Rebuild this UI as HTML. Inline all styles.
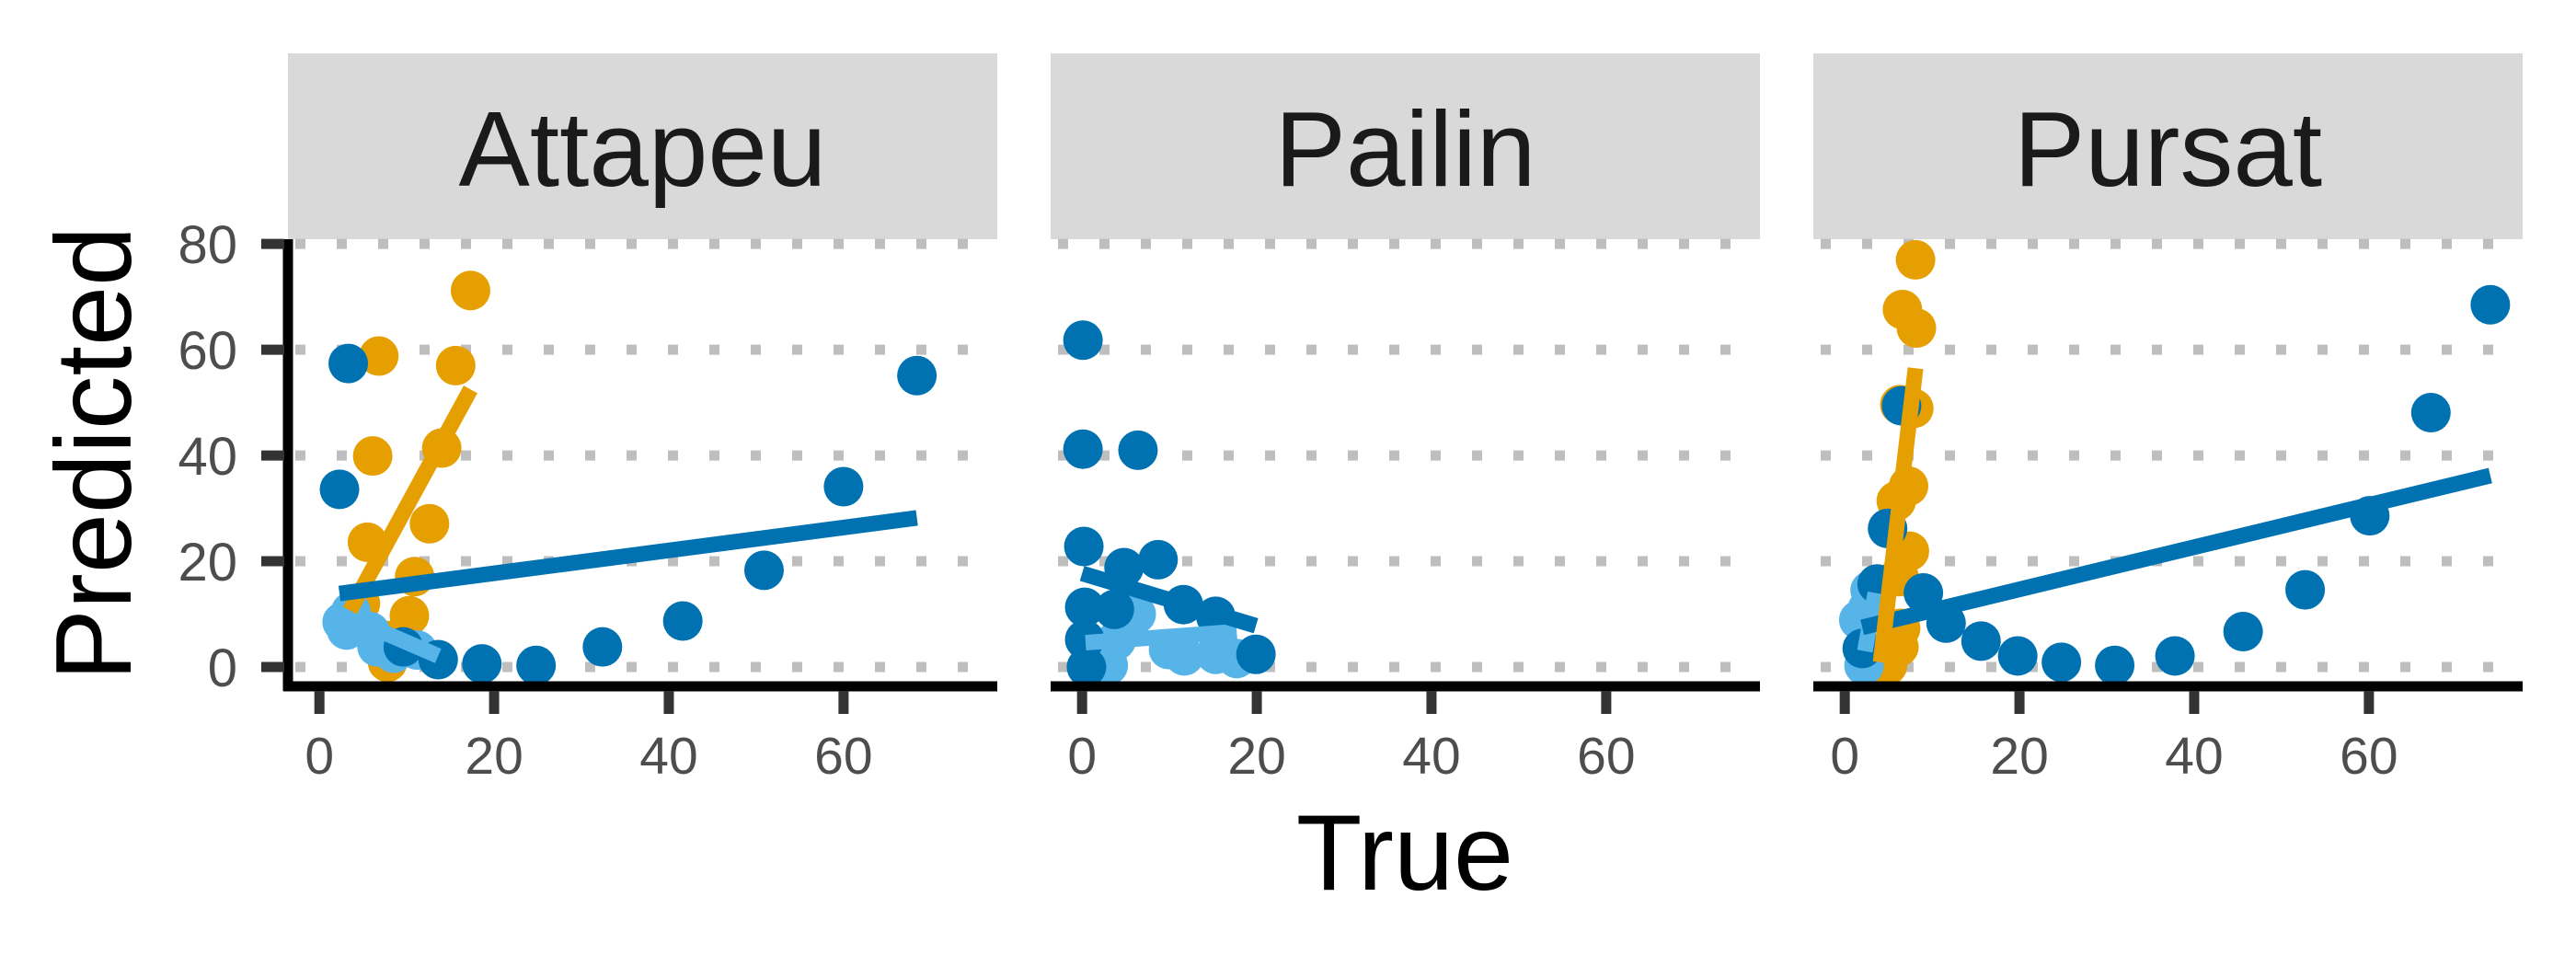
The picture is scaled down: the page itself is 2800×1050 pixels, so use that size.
<!DOCTYPE html>
<html><head><meta charset="utf-8"><style>
html,body{margin:0;padding:0;background:#fff;}
svg{display:block;font-family:"Liberation Sans",sans-serif;}
</style></head><body>
<svg id="chart" width="2800" height="1050" viewBox="0 0 2800 1050" xmlns="http://www.w3.org/2000/svg">
<rect width="2800" height="1050" fill="#fff"/>
<g id="root"></g>
</svg>
<script>
// ---- data ----
const panelNames = ["Attapeu", "Pailin", "Pursat"];
const xTicks = [0, 20, 40, 60];
const yTicks = [0, 20, 40, 60, 80];

// Attapeu
const attDarkX = [3.3, 2.3, 68.4, 60, 50.9, 41.6, 32.4, 24.8, 18.6, 13.6, 9.6];
const attDarkY = [57.4, 33.6, 55.1, 34.1, 18.3, 8.7, 3.8, 0.3, 0.6, 1.4, 3.8];
const attOrangeX = [17.3, 6.8, 15.6, 14.0, 6.1, 12.6, 5.5, 10.9, 10.3, 7.8, 4.7, 7.7];
const attOrangeY = [71.2, 58.8, 57.0, 41.4, 39.9, 27.1, 23.6, 17.1, 9.7, 0.9, 12.0, 5.0];
const attLightX = [3.1, 3.6, 5.8, 6.6, 11.2, 8.5, 2.6];
const attLightY = [7.0, 10.5, 6.7, 3.8, 3.2, 2.6, 8.5];
const attDarkFit = [2.3, 13.9, 68.4, 28.2];
const attOrangeFit = [3.5, 10.7, 17.3, 52.5];
const attLightFit = [2.5, 10.0, 13.6, 2.1];

// Pailin
const paiDarkX = [0.1, 0.1, 6.4, 0.2, 8.7, 4.8, 11.6, 15.3, 19.9, 0.3, 3.7, 0.3, 0.5];
const paiDarkY = [61.8, 41.2, 41.0, 22.8, 20.3, 18.8, 11.8, 9.6, 2.4, 11.3, 10.9, 5.2, 0.0];
const paiLightX = [6.2, 9.9, 11.7, 15.3, 17.7, 3.0, 3.9, 2.0];
const paiLightY = [10.0, 3.3, 2.1, 2.4, 1.6, 0.3, 5.0, 2.0];
const paiDarkFit = [0.0, 17.7, 19.9, 7.8];
const paiLightFit = [0.4, 4.6, 17.7, 6.7];

// Pursat
const purDarkX = [73.9, 67.1, 60.1, 52.7, 45.6, 37.8, 30.9, 24.8, 19.8, 15.6, 11.6, 9.0, 3.7, 4.9, 6.5, 2.0];
const purDarkY = [68.5, 48.1, 28.6, 14.6, 6.7, 2.1, 0.3, 0.9, 2.1, 4.9, 8.3, 14.0, 15.7, 26.2, 49.4, 3.5];
const purOrangeX = [8.1, 6.6, 8.2, 6.3, 7.9, 7.3, 5.9, 7.4, 6.2, 6.4, 6.2, 4.9];
const purOrangeY = [77.0, 67.6, 64.1, 49.6, 48.9, 34.2, 31.4, 21.9, 17.1, 7.3, 3.8, 0.3];
const purLightX = [2.9, 1.6, 2.2, 2.2, 2.6];
const purLightY = [14.5, 8.9, 2.9, 0.3, 11.0];
const purDarkFit = [2.0, 7.5, 73.9, 36.2];
const purOrangeFit = [4.1, 0.9, 8.1, 56.5];
const purLightFit = [2.3, 3.0, 3.5, 14.0];

// ---- layout ----
const NS = "http://www.w3.org/2000/svg";
const root = document.getElementById('root');
const panelLeft = [313, 1142, 1971];
const panelW = 771, panelTop = 260, panelBot = 746;
const xMin = -3.6, xMax = 77.6, yMin = -3.65, yMax = 80.9;
const DARK = "#0072B2", ORANGE = "#E69F00", LIGHT = "#56B4E9";
function xs(p, v){ return panelLeft[p] + (v - xMin) / (xMax - xMin) * panelW; }
function ys(v){ return panelBot - (v - yMin) / (yMax - yMin) * (panelBot - panelTop); }
function mk(tag, attrs, parent){
  const e = document.createElementNS(NS, tag);
  for (const k in attrs) e.setAttribute(k, attrs[k]);
  (parent || root).appendChild(e);
  return e;
}

const panels = [
  {dark:[attDarkX, attDarkY], orange:[attOrangeX, attOrangeY], light:[attLightX, attLightY],
   fits:[[attLightFit, LIGHT],[attOrangeFit, ORANGE],[attDarkFit, DARK]]},
  {dark:[paiDarkX, paiDarkY], orange:null, light:[paiLightX, paiLightY],
   fits:[[paiLightFit, LIGHT],[paiDarkFit, DARK]]},
  {dark:[purDarkX, purDarkY], orange:[purOrangeX, purOrangeY], light:[purLightX, purLightY],
   fits:[[purLightFit, LIGHT],[purDarkFit, DARK],[purOrangeFit, ORANGE]]}
];

panels.forEach((pd, p) => {
  const g = mk('g', {});
  
  
  const strip = mk('rect', {x: panelLeft[p], y: 58, width: panelW, height: 202, fill: '#d9d9d9'}, g);
  
  
  const st = mk('text', {x: panelLeft[p] + panelW/2, y: 202, 'text-anchor': 'middle', 'font-size': 116, fill: '#1a1a1a'}, g);
  st.textContent = panelNames[p];
  
  
  yTicks.forEach(t => {
    const gl = mk('line', {x1: panelLeft[p], x2: panelLeft[p] + panelW, y1: ys(t), y2: ys(t), stroke: '#bebebe', 'stroke-width': 11, 'stroke-dasharray': '11 34', 'stroke-dashoffset': -8}, g);
    
    
  });
  const groups = [[pd.orange, ORANGE, 'orange'], [pd.light, LIGHT, 'light'], [pd.dark, DARK, 'dark']];
  groups.forEach(([arr, col, nm]) => {
    if (!arr) return;
    arr[0].forEach((xv, i) => {
      const c = mk('circle', {cx: xs(p, xv), cy: ys(arr[1][i]), r: 21.5, fill: col}, g);
      
      
    });
  });
  pd.fits.forEach(([f, col]) => {
    const l = mk('line', {x1: xs(p, f[0]), y1: ys(f[1]), x2: xs(p, f[2]), y2: ys(f[3]), stroke: col, 'stroke-width': 17}, g);
    
    
  });
  const ax = mk('line', {x1: panelLeft[p] - (p===0?5:0), x2: panelLeft[p] + panelW, y1: 746, y2: 746, stroke: '#000', 'stroke-width': 11}, g);
  
  
  xTicks.forEach(t => {
    const tk = mk('line', {x1: xs(p, t), x2: xs(p, t), y1: 751, y2: 776, stroke: '#333', 'stroke-width': 11}, g);
    
    
    const tl = mk('text', {x: xs(p, t), y: 841, 'text-anchor': 'middle', 'font-size': 57, fill: '#4d4d4d'}, g);
    tl.textContent = t;
    
    
  });
});

const yax = mk('line', {x1: 313, x2: 313, y1: 260, y2: 751, stroke: '#000', 'stroke-width': 11});


yTicks.forEach(t => {
  const tk = mk('line', {x1: 284, x2: 309, y1: ys(t), y2: ys(t), stroke: '#333', 'stroke-width': 11});
  
  
  const tl = mk('text', {x: 258, y: ys(t) + 21, 'text-anchor': 'end', 'font-size': 58, fill: '#4d4d4d'});
  tl.textContent = t;
  
  
});

const xt = mk('text', {x: 1527, y: 967, 'text-anchor': 'middle', 'font-size': 117, fill: '#000'});
xt.textContent = 'True';


const yt = mk('text', {x: 0, y: 0, 'text-anchor': 'middle', 'font-size': 117, fill: '#000', transform: 'translate(142,493) rotate(-90)'});
yt.textContent = 'Predicted';


</script>
</body></html>
